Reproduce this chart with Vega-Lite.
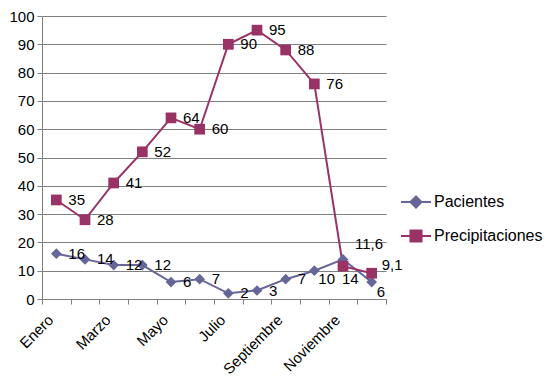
{
  "$schema": "https://vega.github.io/schema/vega-lite/v6.json",
  "width": 344,
  "height": 283,
  "autosize": "none",
  "padding": {"left": 42, "top": 16, "right": 160, "bottom": 93},
  "background": "white",
  "config": {
    "font": "Liberation Sans",
    "view": {"stroke": null},
    "locale": {"number": {"decimal": ",", "thousands": ".", "grouping": [3], "currency": ["", ""]}}
  },
  "data": {"values": [
    {"mes": "Enero", "serie": "Pacientes", "valor": 16},
    {"mes": "Febrero", "serie": "Pacientes", "valor": 14},
    {"mes": "Marzo", "serie": "Pacientes", "valor": 12},
    {"mes": "Abril", "serie": "Pacientes", "valor": 12},
    {"mes": "Mayo", "serie": "Pacientes", "valor": 6},
    {"mes": "Junio", "serie": "Pacientes", "valor": 7},
    {"mes": "Julio", "serie": "Pacientes", "valor": 2},
    {"mes": "Agosto", "serie": "Pacientes", "valor": 3},
    {"mes": "Septiembre", "serie": "Pacientes", "valor": 7},
    {"mes": "Octubre", "serie": "Pacientes", "valor": 10},
    {"mes": "Noviembre", "serie": "Pacientes", "valor": 14},
    {"mes": "Diciembre", "serie": "Pacientes", "valor": 6},
    {"mes": "Enero", "serie": "Precipitaciones", "valor": 35},
    {"mes": "Febrero", "serie": "Precipitaciones", "valor": 28},
    {"mes": "Marzo", "serie": "Precipitaciones", "valor": 41},
    {"mes": "Abril", "serie": "Precipitaciones", "valor": 52},
    {"mes": "Mayo", "serie": "Precipitaciones", "valor": 64},
    {"mes": "Junio", "serie": "Precipitaciones", "valor": 60},
    {"mes": "Julio", "serie": "Precipitaciones", "valor": 90},
    {"mes": "Agosto", "serie": "Precipitaciones", "valor": 95},
    {"mes": "Septiembre", "serie": "Precipitaciones", "valor": 88},
    {"mes": "Octubre", "serie": "Precipitaciones", "valor": 76},
    {"mes": "Noviembre", "serie": "Precipitaciones", "valor": 11.6},
    {"mes": "Diciembre", "serie": "Precipitaciones", "valor": 9.1}
  ]},
  "encoding": {
    "x": {
      "field": "mes", "type": "ordinal", "sort": null, "bandPosition": 0.5,
      "scale": {"type": "band", "paddingInner": 0, "paddingOuter": 0},
      "axis": {
        "title": null, "tickBand": "extent", "domainColor": "#808080", "tickColor": "#808080",
        "tickSize": 5, "labelAngle": -45, "labelAlign": "right", "labelBaseline": "middle",
        "labelPadding": 13, "labelOffset": -6, "labelFontSize": 15, "labelColor": "black", "grid": false,
        "labelExpr": "indexof(['Enero','Marzo','Mayo','Julio','Septiembre','Noviembre'], datum.value) >= 0 ? datum.value : ''"
      }
    },
    "y": {
      "field": "valor", "type": "quantitative",
      "scale": {"domain": [0, 100], "nice": false},
      "axis": {
        "title": null, "values": [0,10,20,30,40,50,60,70,80,90,100], "domainColor": "#808080",
        "tickColor": "#808080", "tickSize": 5, "gridColor": "#808080", "gridOpacity": 1,
        "labelFontSize": 15, "labelColor": "black", "labelPadding": 3
      }
    }
  },
  "layer": [
    {
      "mark": {"type": "line", "strokeWidth": 2},
      "encoding": {
        "color": {
          "field": "serie", "type": "nominal",
          "scale": {"domain": ["Pacientes", "Precipitaciones"], "range": ["#666699", "#993366"]},
          "legend": {
            "title": null, "orient": "none", "legendX": 358, "legendY": 170, "padding": 0,
            "rowPadding": 8, "labelFontSize": 16, "labelColor": "black", "labelOffset": 2,
            "symbolSize": 900, "symbolStrokeWidth": 2,
            "encode": {
              "symbols": {
                "update": {
                  "shape": {"signal": "datum.value === 'Pacientes' ? 'M-1,0H1M0,-0.37L0.37,0L0,0.37L-0.37,0Z' : 'M-1,0H1M-0.37,-0.37H0.37V0.37H-0.37Z'"},
                  "fill": {"signal": "datum.value === 'Pacientes' ? '#666699' : '#993366'"},
                  "stroke": {"signal": "datum.value === 'Pacientes' ? '#666699' : '#993366'"},
                  "strokeWidth": {"value": 2},
                  "opacity": {"value": 1},
                  "fillOpacity": {"value": 1},
                  "strokeOpacity": {"value": 1}
                }
              }
            }
          }
        }
      }
    },
    {
      "transform": [{"filter": "datum.serie === 'Pacientes'"}],
      "mark": {"type": "point", "shape": "diamond", "filled": true, "opacity": 1, "size": 115, "color": "#666699"}
    },
    {
      "transform": [{"filter": "datum.serie === 'Precipitaciones'"}],
      "mark": {"type": "point", "shape": "square", "filled": true, "opacity": 1, "size": 115, "color": "#993366"}
    },
    {
      "transform": [{"filter": "!((datum.mes === 'Octubre' || datum.mes === 'Noviembre' || datum.mes === 'Diciembre') && datum.serie === 'Pacientes') && !((datum.mes === 'Noviembre' || datum.mes === 'Diciembre') && datum.serie === 'Precipitaciones')"}],
      "mark": {"type": "text", "align": "left", "baseline": "middle", "dx": 12, "fontSize": 15, "color": "black"},
      "encoding": {"text": {"field": "valor", "type": "quantitative", "format": "~f"}}
    },
    {
      "transform": [{"filter": "datum.mes === 'Octubre' && datum.serie === 'Pacientes'"}],
      "mark": {"type": "text", "align": "left", "baseline": "middle", "dx": 4, "dy": 8, "fontSize": 15, "color": "black"},
      "encoding": {"text": {"field": "valor", "type": "quantitative", "format": "~f"}}
    },
    {
      "transform": [{"filter": "datum.mes === 'Noviembre' && datum.serie === 'Pacientes'"}],
      "mark": {"type": "text", "align": "left", "baseline": "middle", "dx": -1, "dy": 20, "fontSize": 15, "color": "black"},
      "encoding": {"text": {"field": "valor", "type": "quantitative", "format": "~f"}}
    },
    {
      "transform": [{"filter": "datum.mes === 'Diciembre' && datum.serie === 'Pacientes'"}],
      "mark": {"type": "text", "align": "left", "baseline": "middle", "dx": 5, "dy": 10, "fontSize": 15, "color": "black"},
      "encoding": {"text": {"field": "valor", "type": "quantitative", "format": "~f"}}
    },
    {
      "transform": [{"filter": "datum.mes === 'Noviembre' && datum.serie === 'Precipitaciones'"}],
      "mark": {"type": "text", "align": "left", "baseline": "middle", "dx": 12, "dy": -22, "fontSize": 15, "color": "black"},
      "encoding": {"text": {"field": "valor", "type": "quantitative", "format": "~f"}}
    },
    {
      "transform": [{"filter": "datum.mes === 'Diciembre' && datum.serie === 'Precipitaciones'"}],
      "mark": {"type": "text", "align": "left", "baseline": "middle", "dx": 10, "dy": -8, "fontSize": 15, "color": "black"},
      "encoding": {"text": {"field": "valor", "type": "quantitative", "format": "~f"}}
    }
  ]
}
